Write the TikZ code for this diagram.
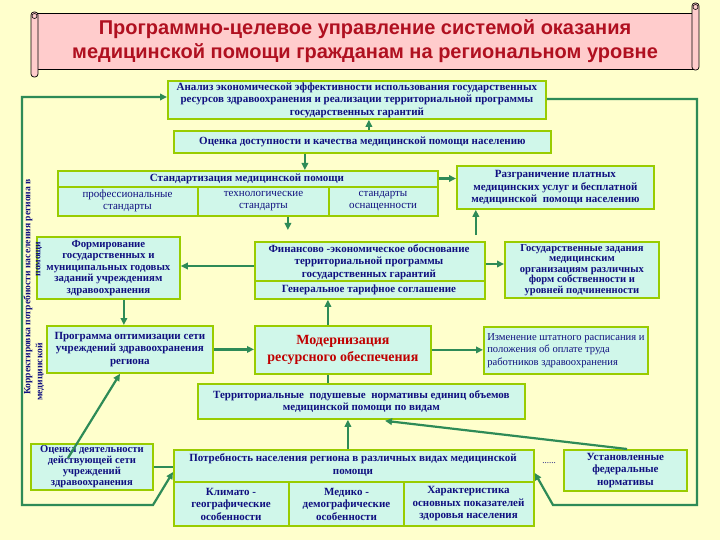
\documentclass[tikz,border=0pt]{standalone}
\usepackage{fontspec}
\setmainfont{Liberation Serif}
\newfontfamily\titlefont{Liberation Sans}
\usetikzlibrary{arrows.meta,calc}
\definecolor{bg}{HTML}{FFFFCC}
\definecolor{bannerpink}{HTML}{FFCCCC}
\definecolor{titlered}{HTML}{B01020}
\definecolor{boxfill}{HTML}{D0F7EA}
\definecolor{boxborder}{HTML}{99CC00}
\definecolor{txtblue}{HTML}{101080}
\definecolor{arrgreen}{HTML}{2E8B57}
\definecolor{modred}{HTML}{C00000}
\begin{document}
\begin{tikzpicture}[x=1pt,y=-1pt,
  box/.style={draw=boxborder, line width=1.8pt, fill=boxfill, inner sep=1pt, anchor=north west},
  txt/.style={align=center, text=txtblue, inner sep=0pt, font=\fontsize{11}{12.5}\selectfont\bfseries},
  txtr/.style={align=center, text=txtblue, inner sep=0pt, font=\fontsize{11}{12.5}\selectfont},
  divider/.style={draw=boxborder, line width=1.8pt},
  conn/.style={draw=arrgreen, line width=2.2pt},
  arr/.style={conn, -{Triangle[length=7pt,width=6.5pt]}},
  darr/.style={conn, {Triangle[length=7pt,width=6.5pt]}-{Triangle[length=7pt,width=6.5pt]}},
  vtxt/.style={rotate=90, text=txtblue, inner sep=0pt, font=\fontsize{9.6}{10}\selectfont\bfseries}
]
\useasboundingbox (0,0) rectangle (720,540);
\fill[bg] (0,0) rectangle (720,540);

% title banner
\draw[black, line width=0.7pt, fill=bannerpink] (36,13) rectangle (695,69);
\draw[black, line width=0.7pt, fill=bannerpink, rounded corners=3pt] (31,12) rectangle (38,77);
\draw[black, line width=0.6pt] (34.5,16) circle (2.5);
\draw[black, line width=0.7pt, fill=bannerpink, rounded corners=3pt] (692,3) rectangle (699,70);
\draw[black, line width=0.6pt] (695.5,7) circle (2.5);
\node[text=titlered, align=center, inner sep=0pt, font=\titlefont\fontsize{20}{24.5}\selectfont\bfseries] (title) at (365,41)
  {Программно-целевое управление системой оказания\\медицинской помощи гражданам на региональном уровне};

% boxes
\node[box, minimum width=378, minimum height=38] (anal) at (167,80) {};
\node[txt] at (anal.center) {Анализ экономической эффективности использования государственных\\ресурсов здравоохранения и реализации территориальной программы\\государственных гарантий};

\node[box, minimum width=377, minimum height=22] (ocdost) at (173,130) {};
\node[txt] at (ocdost.center) {Оценка доступности и качества медицинской помощи населению};

\node[box, minimum width=380, minimum height=45] (stand) at (57,170) {};
\draw[divider] ($(stand.north west)+(0,17)$) -- ($(stand.north east)+(0,17)$);
\draw[divider] ($(stand.north west)+(141,17)$) -- ($(stand.south west)+(141,0)$);
\draw[divider] ($(stand.north west)+(272,17)$) -- ($(stand.south west)+(272,0)$);
\node[txt] at ($(stand.north west)+(190,8.5)$) {Стандартизация медицинской помощи};
\node[txtr] at ($(stand.north west)+(70.5,31)$) {профессиональные\\стандарты};
\node[txtr] at ($(stand.north west)+(206.5,31)$) {технологические\\стандарты};
\node[txtr] at ($(stand.north west)+(326,31)$) {стандарты\\оснащенности};

\node[box, minimum width=197, minimum height=43] (razgr) at (456,165) {};
\node[txt] at (razgr.center) {Разграничение платных\\медицинских услуг и бесплатной\\медицинской \ помощи населению};

\node[box, minimum width=143, minimum height=62] (form) at (36,236) {};
\node[txt, font=\fontsize{10.8}{11.4}\selectfont\bfseries] at (form.center) {Формирование\\государственных и\\муниципальных годовых\\заданий учреждениям\\здравоохранения};

\node[box, minimum width=230, minimum height=57] (finans) at (254,241) {};
\draw[divider] ($(finans.north west)+(0,40)$) -- ($(finans.north east)+(0,40)$);
\node[txt] at ($(finans.north west)+(115,21)$) {Финансово -экономическое обоснование\\территориальной программы\\государственных гарантий};
\node[txt] at ($(finans.north west)+(115,49)$) {Генеральное тарифное соглашение};

\node[box, minimum width=154, minimum height=56] (gosz) at (504,241) {};
\node[txt, font=\fontsize{10.6}{10.6}\selectfont\bfseries] at (gosz.center) {Государственные задания\\медицинским\\организациям различных\\форм собственности и\\уровней подчиненности};

\node[box, minimum width=166, minimum height=47] (progr) at (46,325) {};
\node[txt] at (progr.center) {Программа оптимизации сети\\учреждений здравоохранения\\региона};

\node[box, minimum width=176, minimum height=48] (modern) at (254,325) {};
\node[align=center, text=modred, inner sep=0pt, font=\fontsize{14}{17}\selectfont\bfseries] at (modern.center) {Модернизация\\ресурсного обеспечения};

\node[box, minimum width=164, minimum height=47] (izm) at (483,326) {};
\node[txtr, align=left, font=\fontsize{10.6}{12.5}\selectfont] at (izm.center) {Изменение штатного расписания и\\положения об оплате труда\\работников здравоохранения};

\node[box, minimum width=327, minimum height=35] (terr) at (197,383) {};
\node[txt] at (terr.center) {Территориальные \ подушевые \ нормативы единиц объемов\\медицинской помощи по видам};

\node[box, minimum width=122, minimum height=46] (ocdeyat) at (30,443) {};
\node[txt, font=\fontsize{10.6}{10.9}\selectfont\bfseries] at (ocdeyat.center) {Оценка деятельности\\действующей сети\\учреждений\\здравоохранения};

\node[box, minimum width=360, minimum height=76] (potr) at (173,449) {};
\draw[divider] ($(potr.north west)+(0,33)$) -- ($(potr.north east)+(0,33)$);
\draw[divider] ($(potr.north west)+(116,33)$) -- ($(potr.south west)+(116,0)$);
\draw[divider] ($(potr.north west)+(231,33)$) -- ($(potr.south west)+(231,0)$);
\node[txt] at ($(potr.north west)+(180,16)$) {Потребность населения региона в различных видах медицинской\\помощи};
\node[txt] at ($(potr.north west)+(58,55)$) {Климато -\\географические\\особенности};
\node[txt] at ($(potr.north west)+(173.5,55)$) {Медико -\\демографические\\особенности};
\node[txt] at ($(potr.north west)+(295.5,55)$) {Характеристика\\основных показателей\\здоровья населения};

\node[box, minimum width=123, minimum height=41] (ust) at (563,449) {};
\node[txt] at (ust.center) {Установленные\\федеральные\\нормативы};

\node[text=txtblue, inner sep=0pt, font=\fontsize{9}{10}\selectfont] (dots) at (549,463) {......};

% loop corners and connector ends
\coordinate (L1) at (22,97);
\coordinate (L2) at (22,505);
\coordinate (L3) at (153,505);
\coordinate (R1) at (697,99);
\coordinate (R2) at (697,505);
\coordinate (R3) at (553,505);
\coordinate (sr) at ($(stand.north east)+(0,8.5)$);
\coordinate (fl) at ($(finans.north west)+(0,25)$);
\coordinate (fr) at ($(finans.north east)+(0,23)$);
\coordinate (ft) at ($(finans.north east)+(-10,0)$);
\coordinate (pl) at ($(potr.north west)+(0,23)$);
\coordinate (pr) at ($(potr.north east)+(0,24)$);
\coordinate (od) at ($(ocdeyat.north west)+(38,15)$);
\coordinate (pb) at ($(progr.south west)+(74,0)$);
\coordinate (us) at ($(ust.north west)+(64,0)$);
\coordinate (tb) at ($(terr.south west)+(188,1)$);
\coordinate (oe) at ($(ocdeyat.north east)+(0,24)$);

% connectors
\draw[arr] ([xshift=6.5pt]ocdost.north) -- ([xshift=6.5pt]ocdost.north |- anal.south);
\draw[arr] ([xshift=-57.5pt]ocdost.south) -- ([xshift=-57.5pt]ocdost.south |- stand.north);
\draw[arr] (sr) -- (sr -| razgr.west);
\draw[arr, shorten >=11pt] ([xshift=40pt]stand.south) -- ([xshift=40pt]stand.south |- finans.north);
\draw[arr] (fl) -- (fl -| form.east);
\draw[arr] (fr) -- (fr -| gosz.west);
\draw[arr, shorten <=6pt] (ft) -- (ft |- razgr.south);
\draw[arr] ([xshift=15.5pt]form.south) -- ([xshift=15.5pt]form.south |- progr.north);
\draw[arr] ([xshift=-15pt]modern.north) -- ([xshift=-15pt]modern.north |- finans.south);
\draw[arr] (progr.east) -- (progr.east -| modern.west);
\draw[arr] (modern.east) -- (modern.east -| izm.west);
\draw[conn] ([xshift=-15pt]modern.south) -- ([xshift=-15pt]modern.south |- terr.north);
\draw[arr] ([xshift=-6pt]potr.north) -- ([xshift=-6pt]potr.north |- terr.south);
\draw[arr] (us) -- (tb);
\draw[arr] (od) -- (pb);
\draw[conn] (oe) -- (oe -| potr.west);
\draw[darr] (pl) -- (L3) -- (L2) -- (L1) -- (anal.west |- L1);
\draw[arr] (anal.east |- R1) -- (R1) -- (R2) -- (R3) -- (pr);

% vertical texts
\node[vtxt] (vt1) at (28,287) {Корректировка потребности населения региона в};
\node[vtxt] (vt2) at (40,372) {медицинской};
\node[vtxt] (vt3) at (39,259) {помощи};
\end{tikzpicture}
\end{document}
